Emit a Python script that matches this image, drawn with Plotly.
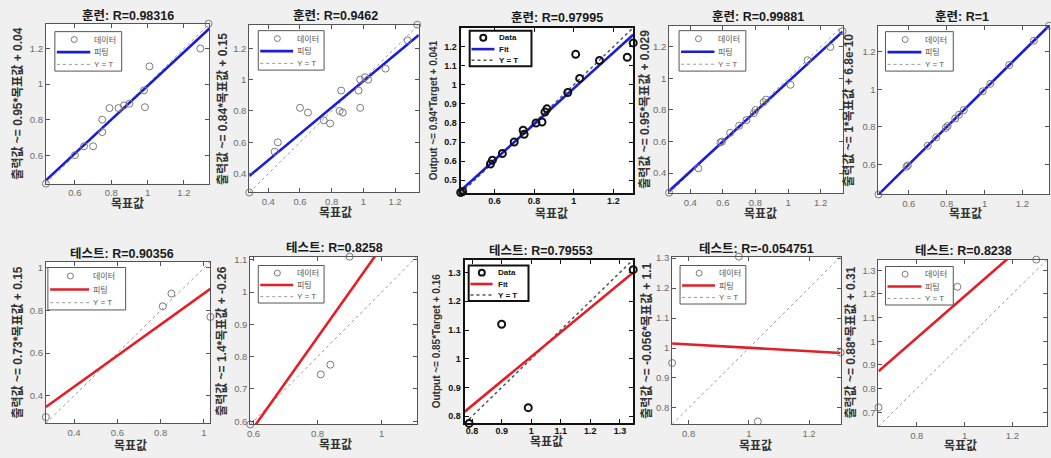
import plotly.graph_objects as go

W, H = 1051, 458

# ---------------- data: (target, network output) per regression panel ----------------
train1_target = [0.44, 0.60, 0.65, 0.70, 0.75, 0.75, 0.79, 0.84, 0.87, 0.90, 0.98, 0.985, 1.01, 1.29, 1.335]
train1_output = [0.44, 0.60, 0.65, 0.65, 0.73, 0.80, 0.865, 0.865, 0.88, 0.89, 0.965, 0.87, 1.10, 1.20, 1.34]

train2_target = [0.28, 0.44, 0.46, 0.60, 0.65, 0.75, 0.79, 0.85, 0.87, 0.86, 0.97, 0.98, 0.98, 1.01, 1.03, 1.14, 1.28, 1.34]
train2_output = [0.28, 0.54, 0.60, 0.82, 0.79, 0.74, 0.72, 0.80, 0.79, 0.93, 0.93, 1.00, 0.82, 1.015, 1.00, 1.07, 1.25, 1.35]

train3_target = [0.43, 0.44, 0.58, 0.59, 0.64, 0.70, 0.745, 0.75, 0.81, 0.84, 0.855, 0.865, 0.97, 1.01, 1.03, 1.13, 1.27, 1.30]
train3_output = [0.435, 0.44, 0.585, 0.605, 0.64, 0.70, 0.762, 0.741, 0.80, 0.805, 0.857, 0.874, 0.96, 1.16, 1.034, 1.128, 1.145, 1.22]

train4_target = [0.27, 0.45, 0.585, 0.595, 0.645, 0.70, 0.745, 0.79, 0.80, 0.85, 0.865, 1.015, 1.12, 1.26, 1.335]
train4_output = [0.275, 0.43, 0.594, 0.60, 0.655, 0.70, 0.736, 0.78, 0.80, 0.85, 0.866, 0.96, 1.116, 1.20, 1.30]

train5_target = [0.44, 0.588, 0.595, 0.70, 0.745, 0.795, 0.805, 0.845, 0.865, 0.89, 0.99, 1.03, 1.13, 1.26, 1.34]
train5_output = [0.44, 0.588, 0.595, 0.70, 0.745, 0.795, 0.805, 0.845, 0.865, 0.89, 0.99, 1.03, 1.13, 1.26, 1.34]

test1_target = [0.27, 0.81, 0.85, 1.03]
test1_output = [0.30, 0.82, 0.88, 0.77]

test2_target = [0.59, 0.81, 0.84, 0.90]
test2_output = [0.59, 0.745, 0.775, 1.11]

test3_target = [0.79, 0.90, 0.99, 1.345]
test3_output = [0.775, 1.12, 0.83, 1.31]

test4_target = [0.745, 0.967, 1.03, 1.305]
test4_output = [0.95, 1.305, 0.755, 0.985]

test5_target = [0.64, 0.97, 1.30]
test5_output = [0.72, 1.23, 1.345]

# correlation coefficients and linear fit (output ~= slope*target + intercept)
r_values = [0.98316, 0.9462, 0.97995, 0.99881, 1, 0.90356, 0.8258, 0.79553, -0.054751, 0.8238]
fit_slopes = [0.95, 0.84, 0.94, 0.95, 1.0, 0.73, 1.4, 0.85, -0.0563, 0.88]
fit_intercepts = [0.04, 0.15, 0.041, 0.029, 6.8e-10, 0.15, -0.26, 0.157, 1.057, 0.31]

# tick values per panel
x_ticks = [
    [0.6, 0.8, 1, 1.2],
    [0.4, 0.6, 0.8, 1, 1.2],
    [0.6, 0.8, 1, 1.2],
    [0.4, 0.6, 0.8, 1, 1.2],
    [0.6, 0.8, 1, 1.2],
    [0.4, 0.6, 0.8, 1],
    [0.6, 0.8, 1],
    [0.8, 0.9, 1, 1.1, 1.2, 1.3],
    [0.8, 1, 1.2],
    [0.8, 1, 1.2],
]
y_ticks = [
    [0.6, 0.8, 1, 1.2],
    [0.4, 0.6, 0.8, 1, 1.2],
    [0.5, 0.6, 0.7, 0.8, 0.9, 1, 1.1, 1.2],
    [0.4, 0.6, 0.8, 1, 1.2],
    [0.6, 0.8, 1, 1.2],
    [0.4, 0.6, 0.8, 1],
    [0.6, 0.7, 0.8, 0.9, 1, 1.1],
    [0.8, 0.9, 1, 1.1, 1.2, 1.3],
    [0.8, 0.9, 1, 1.1, 1.2, 1.3],
    [0.7, 0.8, 0.9, 1, 1.1, 1.2, 1.3],
]

targets = [train1_target, train2_target, train3_target, train4_target, train5_target,
           test1_target, test2_target, test3_target, test4_target, test5_target]
outputs = [train1_output, train2_output, train3_output, train4_output, train5_output,
           test1_output, test2_output, test3_output, test4_output, test5_output]

# ---------------- layout of the 2x5 grid (pixels) ----------------
boxes = [  # left, top, right, bottom
    (43, 20, 207, 182), (247, 21, 417, 191), (459, 24, 632, 192), (668, 22, 842, 192), (878, 22, 1049, 193),
    (43, 261, 208, 425), (248, 256, 415, 426), (463, 259, 632, 425), (671, 256, 840, 426), (878, 259, 1047, 428),
]
title_pos = [(125, 12), (333, 12), (556, 14), (757, 13), (962, 13),
             (119, 253), (332, 247), (540, 250), (756, 248), (963, 250)]
xtitle_pos = [(125, 203), (333, 212), (550, 213), (760, 213), (965, 213),
              (128, 448), (333, 447), (545, 444), (755, 448), (960, 448)]
ytitle_x = [15, 220, 432, 643, 849, 15, 219, 435, 645, 850]
legend_boxes = [  # left, top, width, height
    (52, 28, 67, 40), (256, 27, 66, 40), (468, 27, 62, 36), (678, 27, 67, 41), (885, 28, 68, 40),
    (45, 267, 78, 43), (256, 265, 66, 38), (467, 265, 60, 36), (679, 265, 66, 39), (885, 266, 68, 39),
]
english = [False, False, True, False, False, False, False, True, False, False]

FONT = "Liberation Sans, Arial, Noto Sans CJK KR, sans-serif"
BLUE = "#1c1cd6"
RED = "#e41e26"

fig = go.Figure()
layout = dict(
    width=W, height=H, margin=dict(l=0, r=0, t=0, b=0),
    paper_bgcolor="#f0f0f0", plot_bgcolor="white",
    font=dict(family=FONT, size=10, color="#666666"),
    showlegend=False, annotations=[], shapes=[],
)


def px(x):
    return x / W


def py(y):
    return 1 - y / H


def draw_legend(box, names, fit_color, data_col, ident_col, frame_col, strong, eng):
    """Boxed key in the upper-left corner of a panel: data marker, fit line, Y = T line."""
    l, t, w, h = box
    s0, s1, mk, tx = (0.03, 0.40, 0.22, 0.45) if eng else (0.03, 0.53, 0.29, 0.56)
    rows = [t + 0.2 * h, t + 0.52 * h, t + 0.83 * h]
    shp = layout["shapes"]
    shp.append(dict(type="rect", xref="paper", yref="paper", layer="above",
                    x0=px(l), x1=px(l + w), y0=py(t + h), y1=py(t),
                    fillcolor="white", line=dict(color=frame_col, width=2 if strong else 1)))
    cx = l + mk * w
    rad = 3
    shp.append(dict(type="circle", xref="paper", yref="paper", layer="above",
                    x0=px(cx - rad), x1=px(cx + rad), y0=py(rows[0] + rad), y1=py(rows[0] - rad),
                    line=dict(color=data_col, width=2 if strong else 1)))
    shp.append(dict(type="line", xref="paper", yref="paper", layer="above",
                    x0=px(l + s0 * w), x1=px(l + s1 * w), y0=py(rows[1]), y1=py(rows[1]),
                    line=dict(color=fit_color, width=2.6)))
    shp.append(dict(type="line", xref="paper", yref="paper", layer="above",
                    x0=px(l + s0 * w), x1=px(l + s1 * w), y0=py(rows[2]), y1=py(rows[2]),
                    line=dict(color=ident_col, width=1.5 if strong else 1, dash="dot")))
    for k in range(3):
        lab = f"<b>{names[k]}</b>" if strong else names[k]
        layout["annotations"].append(dict(
            text=lab, x=px(l + tx * w), y=py(rows[k]), xref="paper", yref="paper",
            showarrow=False, xanchor="left", yanchor="middle",
            font=dict(family=FONT, size=8, color="#111111" if strong else "#555555")))


for i in range(10):
    sfx = "" if i == 0 else str(i + 1)
    xa, ya = "x" + sfx, "y" + sfx
    t, o = targets[i], outputs[i]
    lo = min(min(t), min(o))
    hi = max(max(t), max(o))
    s, b = fit_slopes[i], fit_intercepts[i]
    is_train = i < 5
    eng = english[i]
    strong = eng
    fit_color = BLUE if is_train else RED
    data_col = "#111111" if strong else "#7a7a7a"
    ident_col = "#555555" if strong else "#9a9a9a"
    axis_col = "#111111" if strong else "#555555"
    names = ("Data", "Fit", "Y = T") if eng else ("데이터", "피팅", "Y = T")

    # identity line, fitted line, data
    fig.add_trace(go.Scatter(
        x=[lo, hi], y=[lo, hi], mode="lines", xaxis=xa, yaxis=ya, name=names[2],
        line=dict(color=ident_col, width=1.5 if strong else 1, dash="dot"), hoverinfo="skip"))
    fig.add_trace(go.Scatter(
        x=[lo, hi], y=[s * lo + b, s * hi + b], mode="lines", xaxis=xa, yaxis=ya, name=names[1],
        line=dict(color=fit_color, width=2.6)))
    fig.add_trace(go.Scatter(
        x=t, y=o, mode="markers", xaxis=xa, yaxis=ya, name=names[0], cliponaxis=False,
        marker=dict(symbol="circle-open", size=7, color=data_col,
                    line=dict(width=2 if strong else 1, color=data_col))))

    l, tp, r, bt = boxes[i]
    tick_font = dict(family=FONT, size=9 if strong else 9.5,
                     color="#111111" if strong else "#6b6b6b", weight="bold" if strong else "normal")
    common = dict(showgrid=False, zeroline=False, showline=True, mirror="allticks",
                  linecolor=axis_col, linewidth=2 if strong else 1,
                  ticks="inside", ticklen=4, tickcolor=axis_col, tickwidth=1,
                  tickfont=tick_font, range=[lo, hi], fixedrange=True)
    layout["xaxis" + sfx] = dict(common, domain=[px(l), px(r)], anchor=ya,
                                 tickvals=x_ticks[i], ticktext=[f"{v:g}" for v in x_ticks[i]],
                                 ticklabelstandoff=-2 if strong else 0)
    layout["yaxis" + sfx] = dict(common, domain=[py(bt), py(tp)], anchor=xa,
                                 tickvals=y_ticks[i], ticktext=[f"{v:g}" for v in y_ticks[i]])

    draw_legend(legend_boxes[i], names, fit_color, data_col, ident_col, axis_col, strong, eng)

    # panel title
    phase = "훈련" if is_train else "테스트"
    tx, ty = title_pos[i]
    layout["annotations"].append(dict(
        text=f"<b>{phase}: R={r_values[i]:.5g}</b>", x=px(tx), y=py(ty), xref="paper", yref="paper",
        showarrow=False, xanchor="center", yanchor="middle",
        font=dict(family=FONT, size=12.5, color="#1a1a1a")))
    # x-axis title
    xx, xy = xtitle_pos[i]
    layout["annotations"].append(dict(
        text="<b>목표값</b>", x=px(xx), y=py(xy), xref="paper", yref="paper",
        showarrow=False, xanchor="center", yanchor="middle",
        font=dict(family=FONT, size=12, color="#333333")))
    # y-axis title with the fitted equation
    if eng:
        ylab = f"Output ~= {s:.2g}*Target + {b:.2g}"
    else:
        ylab = f"출력값 ~= {s:.2g}*목표값 + {b:.2g}"
    layout["annotations"].append(dict(
        text=f"<b>{ylab}</b>", x=px(ytitle_x[i]), y=py((tp + bt) / 2), xref="paper", yref="paper",
        showarrow=False, xanchor="center", yanchor="middle", textangle=-90,
        font=dict(family=FONT, size=10 if eng else 12, color="#333333")))

fig.update_layout(**layout)
fig.write_html("out.html")
